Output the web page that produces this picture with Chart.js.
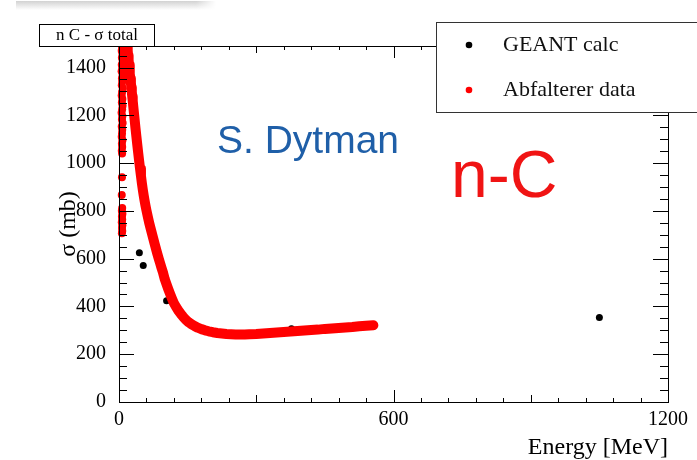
<!DOCTYPE html>
<html lang="en">
<head>
    <meta charset="UTF-8">
    <title>n C - σ total</title>
    <script src="https://cdn.jsdelivr.net/npm/chart.js"></script>
    <style>
        body { margin: 0; background: #fff; }
        .container { position: relative; width: 697px; height: 460px; }
        .shade {
            position: absolute; left: 16px; top: 1px; width: 200px; height: 9px;
            background: linear-gradient(to bottom, #d2d2d2, #ebebeb 55%, #ffffff);
            -webkit-mask-image: linear-gradient(to right, #000 90%, transparent);
            mask-image: linear-gradient(to right, #000 90%, transparent);
        }
        canvas { position: absolute; left: 0; top: 0; }
    </style>
</head>
<body>
    <div class="container">
        <div class="shade"></div>
        <canvas id="xsecChart" width="697" height="460"></canvas>
    </div>
    <script>
        // GEANT calculation
        const geantEnergy = [44.5, 53, 104, 377, 1050];
        const geantSigma = [625, 571, 424, 307, 354];

        // Abfalterer total cross section above the resonance region
        const abfEnergy = [16, 17, 18, 19, 20, 21, 22, 23, 24, 25, 26, 27, 28, 29, 30,
            32, 34, 36, 38, 40, 42, 44, 46, 48, 50, 52, 54, 56, 58, 60,
            63, 66, 69, 72, 75, 78, 81, 84, 87, 90, 93, 96,
            100, 104, 108, 112, 116, 120, 125, 130, 135, 140, 146, 152, 158, 165, 172,
            180, 188, 196, 205, 215, 225, 235, 245, 255, 265, 275, 285,
            300, 315, 330, 345, 360, 375, 390, 405, 420, 435, 450, 465, 480, 495, 510, 525, 540, 556];
        const abfSigma = [1535, 1512, 1490, 1470, 1450, 1431, 1411, 1392, 1373, 1354, 1335, 1316, 1297, 1278, 1260,
            1222, 1184, 1147, 1111, 1076, 1042, 1009, 977, 946, 916, 889, 864, 842, 821, 802,
            775, 750, 727, 705, 683, 661, 640, 619, 599, 580, 561, 543,
            514, 492, 471, 451, 432, 414, 397, 382, 369, 357, 344, 334, 326, 318, 311,
            305, 300, 296, 292, 289, 287, 285, 284, 283, 283, 283, 284,
            285, 287, 289, 291, 293, 295, 297, 299, 301, 303, 306, 308, 310, 312, 314, 317, 319, 321];

        // Abfalterer points in the low-energy resonances
        const resEnergy = [6.8, 5.9, 7.6, 6.3, 8.1, 6.0, 7.2, 5.7, 7.9, 6.5,
            7.0, 6.1, 8.3, 6.7, 5.8, 7.4, 6.2, 7.8, 6.9, 5.6,
            7.3, 6.4, 8.0, 6.0, 7.1, 6.6, 5.9, 7.5, 6.3, 7.0,
            6.1, 6.8, 6.5, 6.0, 7.0, 6.2, 7.5, 6.4, 7.0, 6.1, 7.3, 6.6, 7.1, 6.3];
        const resSigma = [1485, 1470, 1456, 1441, 1427, 1412, 1398, 1384, 1369, 1355,
            1340, 1326, 1312, 1297, 1283, 1268, 1254, 1240, 1225, 1211,
            1196, 1182, 1168, 1153, 1139, 1124, 1110, 1096, 1081, 1067,
            1052, 1040, 941, 866, 812, 800, 788, 776, 764, 752, 740, 728, 716, 706];

        const xTicks = [0, 600, 1200];
        const yTicks = [0, 200, 400, 600, 800, 1000, 1200, 1400];

        const toPoints = (xs, ys) => xs.map((x, i) => ({x: x, y: ys[i]}));
        const serif = '"Liberation Serif", "Times New Roman", serif';
        const sans = '"Liberation Sans", Arial, sans-serif';

        // ROOT style frame: inward ticks on all four sides, title box, legend box, labels
        const rootFrame = {
            id: 'rootFrame',
            afterDraw(chart) {
                const {ctx, chartArea: a, scales: {x, y}} = chart;
                ctx.save();
                ctx.strokeStyle = '#000';
                ctx.lineWidth = 1;
                ctx.beginPath();
                for (let e = 0; e <= 1200; e += 60) {
                    const len = e % 600 === 0 ? 12 : (e % 300 === 0 ? 7 : 4);
                    const px = Math.round(x.getPixelForValue(e)) + 0.5;
                    ctx.moveTo(px, a.bottom); ctx.lineTo(px, a.bottom - len);
                    ctx.moveTo(px, a.top); ctx.lineTo(px, a.top + len);
                }
                for (let s = 0; s <= y.max; s += 50) {
                    const len = s % 200 === 0 ? 15 : 8;
                    const py = Math.round(y.getPixelForValue(s)) + 0.5;
                    ctx.moveTo(a.left, py); ctx.lineTo(a.left + len, py);
                    ctx.moveTo(a.right, py); ctx.lineTo(a.right - len, py);
                }
                ctx.stroke();
                ctx.strokeRect(a.left + 0.5, a.top + 0.5, a.right - a.left, a.bottom - a.top);

                // histogram title box
                ctx.fillStyle = '#fff';
                ctx.fillRect(39.5, 24.5, 115, 22);
                ctx.strokeRect(39.5, 24.5, 115, 22);
                ctx.fillStyle = '#000';
                ctx.font = '17px ' + serif;
                ctx.textAlign = 'center';
                ctx.textBaseline = 'middle';
                ctx.fillText('n C - σ total', 97, 36);

                // legend
                ctx.fillStyle = '#fff';
                ctx.fillRect(436.5, 22.5, 270, 90);
                ctx.strokeStyle = '#333';
                ctx.strokeRect(436.5, 22.5, 270, 90);
                const entries = chart.data.datasets.filter(d => d.legendRow !== undefined)
                    .sort((p, q) => p.legendRow - q.legendRow);
                ctx.font = '22px ' + serif;
                ctx.textAlign = 'left';
                entries.forEach((d, i) => {
                    const cy = 45 + i * 45;
                    ctx.fillStyle = d.backgroundColor;
                    ctx.beginPath();
                    ctx.arc(469, cy, 3.3, 0, Math.PI * 2);
                    ctx.fill();
                    ctx.fillStyle = '#111';
                    ctx.fillText(d.label, 503, cy);
                });

                ctx.textBaseline = 'alphabetic';
                ctx.fillStyle = '#1f5fa8';
                ctx.font = '39px ' + sans;
                ctx.fillText('S. Dytman', 217, 153);
                ctx.fillStyle = '#f01414';
                ctx.font = '66px ' + sans;
                ctx.fillText('n-C', 451, 197);
                ctx.restore();
            }
        };

        Chart.defaults.font.family = serif;
        Chart.defaults.color = '#000';

        const ctx = document.getElementById('xsecChart').getContext('2d');
        new Chart(ctx, {
            type: 'scatter',
            data: {
                datasets: [
                    {
                        label: 'Abfalterer data',
                        legendRow: 1,
                        data: toPoints(abfEnergy, abfSigma),
                        showLine: true,
                        borderColor: '#ff0000',
                        backgroundColor: '#ff0000',
                        borderWidth: 10,
                        borderCapStyle: 'round',
                        borderJoinStyle: 'round',
                        pointRadius: 0,
                        clip: {left: 6, top: 0, right: 0, bottom: 0}
                    },
                    {
                        data: toPoints(resEnergy, resSigma),
                        backgroundColor: '#ff0000',
                        pointRadius: 4,
                        pointBorderWidth: 0,
                        clip: {left: 6, top: 0, right: 0, bottom: 0}
                    },
                    {
                        label: 'GEANT calc',
                        legendRow: 0,
                        data: toPoints(geantEnergy, geantSigma),
                        backgroundColor: '#000',
                        pointRadius: 3.5,
                        pointBorderWidth: 0
                    }
                ]
            },
            options: {
                responsive: false,
                animation: false,
                devicePixelRatio: 1,
                layout: { padding: { left: 40, top: 46, right: 29, bottom: 0 } },
                plugins: {
                    legend: { display: false },
                    tooltip: { enabled: false }
                },
                scales: {
                    x: {
                        type: 'linear',
                        min: 0,
                        max: 1200,
                        afterBuildTicks: s => { s.ticks = xTicks.map(v => ({value: v})); },
                        afterFit: s => { s.height = 58; },
                        grid: { display: false },
                        border: { display: false },
                        ticks: {
                            autoSkip: false,
                            maxRotation: 0,
                            padding: 0,
                            font: { size: 20, lineHeight: 1 },
                            color: '#000',
                            callback: v => String(v)
                        },
                        title: {
                            display: true,
                            text: 'Energy [MeV]',
                            align: 'end',
                            color: '#000',
                            font: { size: 24, lineHeight: 1 },
                            padding: { top: 0, bottom: 0 }
                        }
                    },
                    y: {
                        min: 0,
                        max: 1490,
                        afterBuildTicks: s => { s.ticks = yTicks.map(v => ({value: v})); },
                        afterFit: s => { s.width = 79; },
                        grid: { display: false },
                        border: { display: false },
                        ticks: {
                            padding: 5,
                            font: { size: 20 },
                            color: '#000',
                            callback: v => String(v)
                        },
                        title: {
                            display: true,
                            text: 'σ (mb)',
                            color: '#000',
                            font: { size: 24 },
                            padding: { top: 14, bottom: 0 }
                        }
                    }
                }
            },
            plugins: [rootFrame]
        });
    </script>
</body>
</html>
